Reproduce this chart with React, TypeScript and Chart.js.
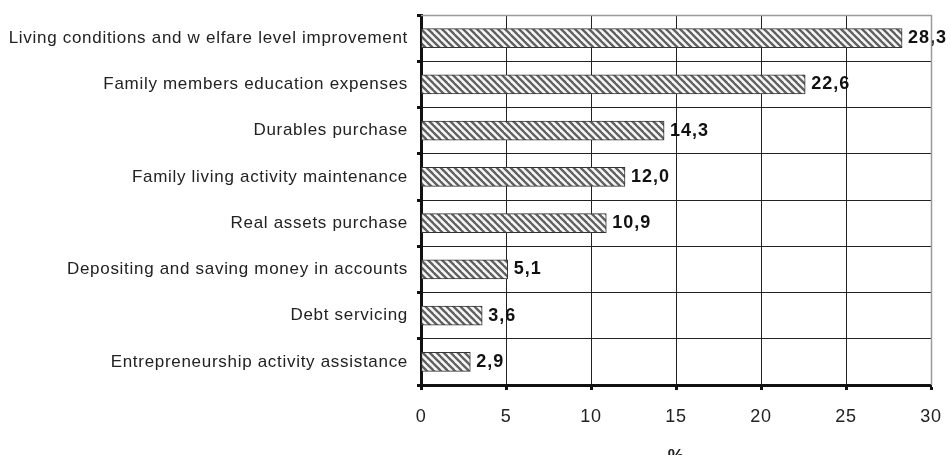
import React, { useEffect, useRef } from "react";
import { Chart, registerables } from "chart.js";

Chart.register(...registerables);

const categories = [
  "Living conditions and w elfare level improvement",
  "Family members education expenses",
  "Durables purchase",
  "Family living activity maintenance",
  "Real assets purchase",
  "Depositing and saving money in accounts",
  "Debt servicing",
  "Entrepreneurship activity assistance",
];

const values = [28.3, 22.6, 14.3, 12.0, 10.9, 5.1, 3.6, 2.9];

const xTicks = [0, 5, 10, 15, 20, 25, 30];

const FONT = '"Liberation Sans", Arial, sans-serif';

function makePattern(): CanvasPattern | string {
  const c = document.createElement("canvas");
  const s = 7;
  c.width = s;
  c.height = s;
  const g = c.getContext("2d");
  if (!g) return "#999";
  g.fillStyle = "#f6f6f6";
  g.fillRect(0, 0, s, s);
  g.strokeStyle = "#606060";
  g.lineWidth = 2.3;
  for (const o of [-s, 0, s]) {
    g.beginPath();
    g.moveTo(o - 1, -1);
    g.lineTo(o + s + 1, s + 1);
    g.stroke();
  }
  const p = g.createPattern(c, "repeat");
  return p || "#999";
}

const spacingPlugin = {
  id: "spacing",
  beforeDraw(chart: any) {
    chart.ctx.letterSpacing = "0.7px";
  },
};

const labelPlugin = {
  id: "valueLabels",
  afterDatasetsDraw(chart: any) {
    const ctx = chart.ctx;
    const meta = chart.getDatasetMeta(0);
    ctx.save();
    ctx.letterSpacing = "1px";
    ctx.font = `bold 18px ${FONT}`;
    ctx.fillStyle = "#111";
    ctx.textAlign = "left";
    ctx.textBaseline = "middle";
    meta.data.forEach((el: any, i: number) => {
      const v = values[i];
      ctx.fillText(v.toFixed(1).replace(".", ","), el.x + 6, el.y);
    });
    ctx.restore();
  },
};

const borderPlugin = {
  id: "frame",
  afterDraw(chart: any) {
    const { ctx, chartArea } = chart;
    ctx.save();
    ctx.strokeStyle = "#9a9a9a";
    ctx.lineWidth = 1.5;
    ctx.beginPath();
    ctx.moveTo(chartArea.left, chartArea.top + 0.5);
    ctx.lineTo(chartArea.right + 0.5, chartArea.top + 0.5);
    ctx.lineTo(chartArea.right + 0.5, chartArea.bottom);
    ctx.stroke();
    ctx.restore();
  },
};

export default function App() {
  const ref = useRef<HTMLCanvasElement>(null);

  useEffect(() => {
    document.body.style.margin = "0";
    if (!ref.current) return;
    const chart = new Chart(ref.current, {
      type: "bar",
      data: {
        labels: categories,
        datasets: [
          {
            data: values,
            backgroundColor: makePattern() as any,
            borderColor: "#333",
            borderWidth: 1,
            borderSkipped: false,
            barThickness: 19,
          },
        ],
      },
      options: {
        indexAxis: "y",
        animation: false,
        responsive: false,
        maintainAspectRatio: false,
        layout: { padding: { top: 15, right: 19, left: 0, bottom: 0 } },
        plugins: {
          legend: { display: false },
          tooltip: { enabled: false },
        },
        scales: {
          x: {
            min: 0,
            max: 30,
            afterBuildTicks(scale: any) {
              scale.ticks = xTicks.map((v) => ({ value: v }));
            },
            afterFit(scale: any) {
              scale.height = 70;
              scale.paddingLeft = 0;
              scale.paddingRight = 0;
            },
            grid: {
              color: (c: any) => (c.tick && c.tick.value === 30 ? "#9a9a9a" : "#222"),
              lineWidth: 1,
              tickLength: 5,
              tickColor: "#111",
              tickWidth: 3,
            },
            border: { color: "#111", width: 3 },
            ticks: {
              padding: 16,
              color: "#222",
              font: { family: FONT, size: 18 },
            },
            title: {
              display: true,
              text: "%",
              color: "#222",
              font: { family: FONT, size: 18, weight: "bold" },
              padding: { top: 0, bottom: -13 },
            },
          },
          y: {
            afterFit(scale: any) {
              scale.width = 421;
              scale.paddingTop = 0;
              scale.paddingBottom = 0;
            },
            grid: {
              color: (c: any) => (c.index === 0 ? "#9a9a9a" : "#222"),
              lineWidth: 1,
              tickLength: 4,
              tickColor: "#111",
              tickWidth: 3,
            },
            border: { color: "#111", width: 3 },
            ticks: {
              padding: 9,
              color: "#222",
              font: { family: FONT, size: 17 },
            },
          },
        },
      },
      plugins: [spacingPlugin, labelPlugin, borderPlugin],
    });
    return () => chart.destroy();
  }, []);

  return (
    <div style={{ width: 950, height: 455 }}>
      <canvas ref={ref} width={950} height={455} />
    </div>
  );
}
